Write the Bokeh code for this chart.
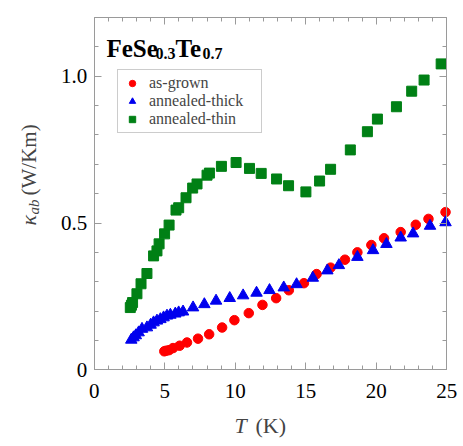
import numpy as np
from bokeh.plotting import figure
from bokeh.models import (Range1d, LinearAxis, SingleIntervalTicker, Label, Legend,
                          LegendItem, CustomJSTickFormatter)
from bokeh.embed import file_html
from bokeh.resources import INLINE

# ---- data ----
T_grown = [4.97, 5.11, 5.31, 5.59, 6.06, 6.58, 7.36, 8.15, 9.07, 9.94, 10.96, 11.93,
           12.90, 13.80, 14.87, 15.77, 16.76, 17.78, 18.66, 19.65, 20.55, 21.73,
           22.80, 23.70, 24.91]
k_grown = [0.063, 0.065, 0.067, 0.074, 0.082, 0.093, 0.106, 0.121, 0.144, 0.169,
           0.193, 0.221, 0.244, 0.271, 0.295, 0.326, 0.348, 0.375, 0.400, 0.425,
           0.448, 0.469, 0.494, 0.514, 0.537]

T_thick = [2.63, 2.79, 2.95, 3.15, 3.39, 3.74, 4.00, 4.21, 4.45, 4.69, 4.92, 5.16,
           5.40, 5.75, 5.99, 6.30, 7.01, 7.81, 8.64, 9.61, 10.56, 11.51, 12.43,
           13.44, 14.35, 15.50, 16.53, 17.35, 18.66, 19.77, 20.72, 21.73, 22.61,
           23.81, 24.91]
k_thick = [0.102, 0.110, 0.117, 0.127, 0.139, 0.144, 0.153, 0.161, 0.167, 0.172,
           0.178, 0.184, 0.187, 0.191, 0.195, 0.198, 0.212, 0.223, 0.235, 0.244,
           0.253, 0.262, 0.271, 0.280, 0.291, 0.313, 0.338, 0.356, 0.384, 0.407,
           0.428, 0.450, 0.464, 0.490, 0.502]

T_thin = [2.56, 2.64, 2.72, 3.03, 3.32, 3.74, 4.21, 4.45, 4.60, 4.99, 5.31, 5.80,
          5.99, 6.51, 6.98, 7.29, 8.00, 8.17, 9.02, 10.06, 11.01, 11.84, 12.93,
          13.78, 15.01, 15.98, 16.76, 18.16, 19.37, 20.08, 21.43, 22.51, 23.39, 24.60]
k_thin = [0.212, 0.220, 0.229, 0.259, 0.293, 0.328, 0.388, 0.405, 0.429, 0.463,
          0.493, 0.544, 0.552, 0.586, 0.619, 0.633, 0.663, 0.670, 0.693, 0.706,
          0.686, 0.669, 0.650, 0.627, 0.606, 0.643, 0.683, 0.749, 0.811, 0.854,
          0.896, 0.949, 0.987, 1.042]

series_labels = ["as-grown", "annealed-thick", "annealed-thin"]
X_MIN, X_MAX = 0, 25
Y_MIN, Y_MAX = 0, 1.2

GRAY = "#9a9a9a"
SERIF = "Liberation Serif"
W, H = 463, 446

# pixel box of the plotting area inside the canvas
BOX_L, BOX_R, BOX_T, BOX_B = 93.7, 446.3, 17.0, 369.3
sx = (BOX_R - BOX_L) / (X_MAX - X_MIN)
sy = (BOX_B - BOX_T) / (Y_MAX - Y_MIN)
x_range = Range1d(X_MIN - BOX_L / sx, X_MAX + (W - BOX_R) / sx)
y_range = Range1d(Y_MIN - (H - BOX_B) / sy, Y_MAX + BOX_T / sy)


def px2x(px):
    return X_MIN + (px - BOX_L) / sx


def px2y(py):
    return Y_MIN + (BOX_B - py) / sy


p = figure(width=W, height=H, output_backend="svg", toolbar_location=None,
           x_range=x_range, y_range=y_range,
           x_axis_location=None, y_axis_location=None,
           min_border_left=0, min_border_right=0, min_border_top=0, min_border_bottom=0)
p.grid.visible = False
p.outline_line_color = None
p.background_fill_color = "white"
p.border_fill_color = "white"

xt = SingleIntervalTicker(interval=5, num_minor_ticks=5)
yt = SingleIntervalTicker(interval=0.5, num_minor_ticks=5)
yfmt = CustomJSTickFormatter(code="return tick == 0 ? '0' : tick.toFixed(1);")


def make_axis(ticker, labels, loc, bounds, fmt=None, standoff=8):
    ax = LinearAxis(ticker=ticker, fixed_location=loc, bounds=bounds,
                    axis_line_color=GRAY, axis_line_width=1,
                    major_tick_line_color=GRAY, minor_tick_line_color=GRAY,
                    major_tick_in=7, major_tick_out=0, minor_tick_in=4, minor_tick_out=0,
                    axis_label=None)
    if fmt is not None:
        ax.formatter = fmt
    if labels:
        ax.major_label_text_font = SERIF
        ax.major_label_text_font_size = "21px"
        ax.major_label_text_color = "black"
        ax.major_label_standoff = standoff
    else:
        ax.major_label_text_font_size = "0px"
        ax.major_label_standoff = 0
        ax.major_label_text_alpha = 0
    return ax


p.add_layout(make_axis(xt, True, Y_MIN, (X_MIN, X_MAX), standoff=14), "below")
p.add_layout(make_axis(yt, True, X_MIN, (Y_MIN, Y_MAX), yfmt, standoff=7), "left")
p.add_layout(make_axis(xt, False, Y_MAX, (X_MIN, X_MAX)), "above")
p.add_layout(make_axis(yt, False, X_MAX, (Y_MIN, Y_MAX), yfmt), "right")

r_red = p.scatter(T_grown, k_grown, marker="circle", size=9.5,
                  fill_color="#ff0000", line_color="#ff0000")
r_blue = p.scatter(T_thick, k_thick, marker="triangle", size=11.5,
                   fill_color="#0000ee", line_color="#0000ee")
r_green = p.scatter(T_thin, k_thin, marker="square", size=10,
                    fill_color="#008015", line_color="#008015")

legend = Legend(items=[LegendItem(label=series_labels[0], renderers=[r_red]),
                       LegendItem(label=series_labels[1], renderers=[r_blue]),
                       LegendItem(label=series_labels[2], renderers=[r_green])],
                location=(117, H - 133), orientation="vertical",
                border_line_color=GRAY, border_line_width=1,
                background_fill_color="white", background_fill_alpha=1,
                padding=4, spacing=0, margin=0,
                glyph_width=20, glyph_height=16, label_height=16, label_standoff=7,
                label_width=108, label_text_line_height=1.0,
                label_text_font=SERIF, label_text_font_size="16px")
p.add_layout(legend)

# ---- title FeSe0.3Te0.7 ----
tx, ty = px2x(106), px2y(48)
pieces = [("FeSe", 0, 0, "25px"), ("0.3", 49, -5, "16px"),
          ("Te", 69, 0, "25px"), ("0.7", 96, -5, "16px")]
for txt, dx, dy, fs in pieces:
    p.add_layout(Label(x=tx, y=ty, text=txt, x_offset=dx, y_offset=dy,
                       text_font=SERIF, text_font_style="bold", text_font_size=fs,
                       text_align="left", text_baseline="alphabetic", text_color="black"))

# ---- x axis label: T (K) ----
xl_x, xl_y = px2x(234), px2y(425)
p.add_layout(Label(x=xl_x, y=xl_y, text="T", text_font=SERIF, text_font_style="italic",
                   text_font_size="22px", text_align="left", text_baseline="alphabetic"))
p.add_layout(Label(x=xl_x, y=xl_y, x_offset=21, text="(K)", text_font=SERIF,
                   text_font_size="22px", text_align="left", text_baseline="alphabetic"))

# ---- y axis label: kappa_ab (W/Km) ----
yl_x, yl_y = px2x(28), px2y(225)
p.add_layout(Label(x=yl_x, y=yl_y, text="κ", angle=np.pi / 2, text_font=SERIF,
                   text_font_style="italic", text_font_size="22px",
                   text_align="left", text_baseline="alphabetic"))
p.add_layout(Label(x=yl_x, y=yl_y, x_offset=5, y_offset=11, text="ab", angle=np.pi / 2,
                   text_font=SERIF, text_font_style="italic", text_font_size="15px",
                   text_align="left", text_baseline="alphabetic"))
p.add_layout(Label(x=yl_x, y=yl_y, y_offset=30, text="(W/Km)", angle=np.pi / 2,
                   text_font=SERIF, text_font_size="21px",
                   text_align="left", text_baseline="alphabetic"))

open("out.html", "w").write(file_html(p, INLINE))
